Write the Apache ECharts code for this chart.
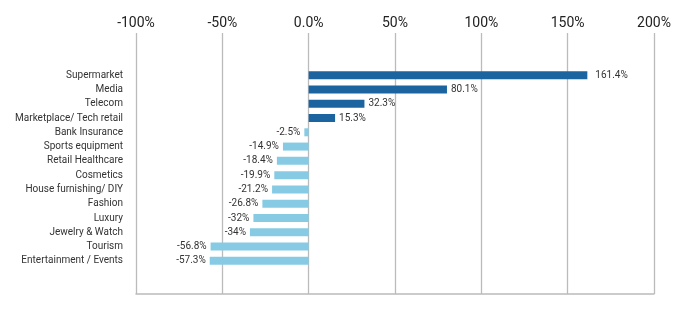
<!DOCTYPE html>
<html>
<head>
<meta charset="utf-8">
<script src="https://cdn.jsdelivr.net/npm/echarts@6/dist/echarts.min.js"></script>
<style>html,body{margin:0;padding:0;background:#fff}#c{width:690px;height:325px}</style>
</head>
<body>
<div id="c"></div>
<script>
const categories = ["Supermarket","Media","Telecom","Marketplace/ Tech retail","Bank Insurance","Sports equipment","Retail Healthcare","Cosmetics","House furnishing/ DIY","Fashion","Luxury","Jewelry & Watch","Tourism","Entertainment / Events"];
const values = [161.4, 80.1, 32.3, 15.3, -2.5, -14.9, -18.4, -19.9, -21.2, -26.8, -32, -34, -56.8, -57.3];
const axisMin = -100, axisMax = 200, axisStep = 50;

const POS = '#1c64a0', NEG = '#86cbe3';
const chart = echarts.init(document.getElementById('c'), null, {renderer: 'canvas'});
const data = values.map((v, i) => ({
  value: v,
  itemStyle: {color: v >= 0 ? POS : NEG},
  label: {position: v >= 0 ? 'right' : 'left', distance: i === 0 ? 8 : 4}
}));
chart.setOption({
  animation: false,
  grid: [
    {left: 136, right: 36, top: 68, bottom: 57},
    {left: 136, right: 36, top: 33, bottom: 31}
  ],
  xAxis: [
    {gridIndex: 0, type: 'value', min: axisMin, max: axisMax, interval: axisStep, show: false},
    {gridIndex: 1, type: 'value', position: 'top', min: axisMin, max: axisMax, interval: axisStep,
      axisLine: {show: false}, axisTick: {show: false},
      axisLabel: {margin: 3, fontSize: 14, color: '#222', fontFamily: 'Roboto',
        formatter: v => v === 0 ? '0.0%' : v + '%'},
      splitLine: {show: true, lineStyle: {color: '#bbbbbb', width: 1.3}}},
    {gridIndex: 1, type: 'value', position: 'bottom', min: axisMin, max: axisMax,
      axisLine: {show: true, lineStyle: {color: '#bbbbbb', width: 1.5}}, axisTick: {show: false},
      axisLabel: {show: false}, splitLine: {show: false}}
  ],
  yAxis: [
    {gridIndex: 0, type: 'category', data: categories, inverse: true,
      axisLine: {show: false}, axisTick: {show: false},
      axisLabel: {interval: 0, margin: 13, fontSize: 10, color: '#333', fontFamily: 'Roboto'}},
    {gridIndex: 1, type: 'value', show: false}
  ],
  series: [{
    type: 'bar', xAxisIndex: 0, yAxisIndex: 0, data: data, barWidth: 8,
    label: {show: true, fontSize: 10, color: '#333', fontFamily: 'Roboto',
      formatter: p => p.value + '%'}
  }]
});
</script>
</body>
</html>
